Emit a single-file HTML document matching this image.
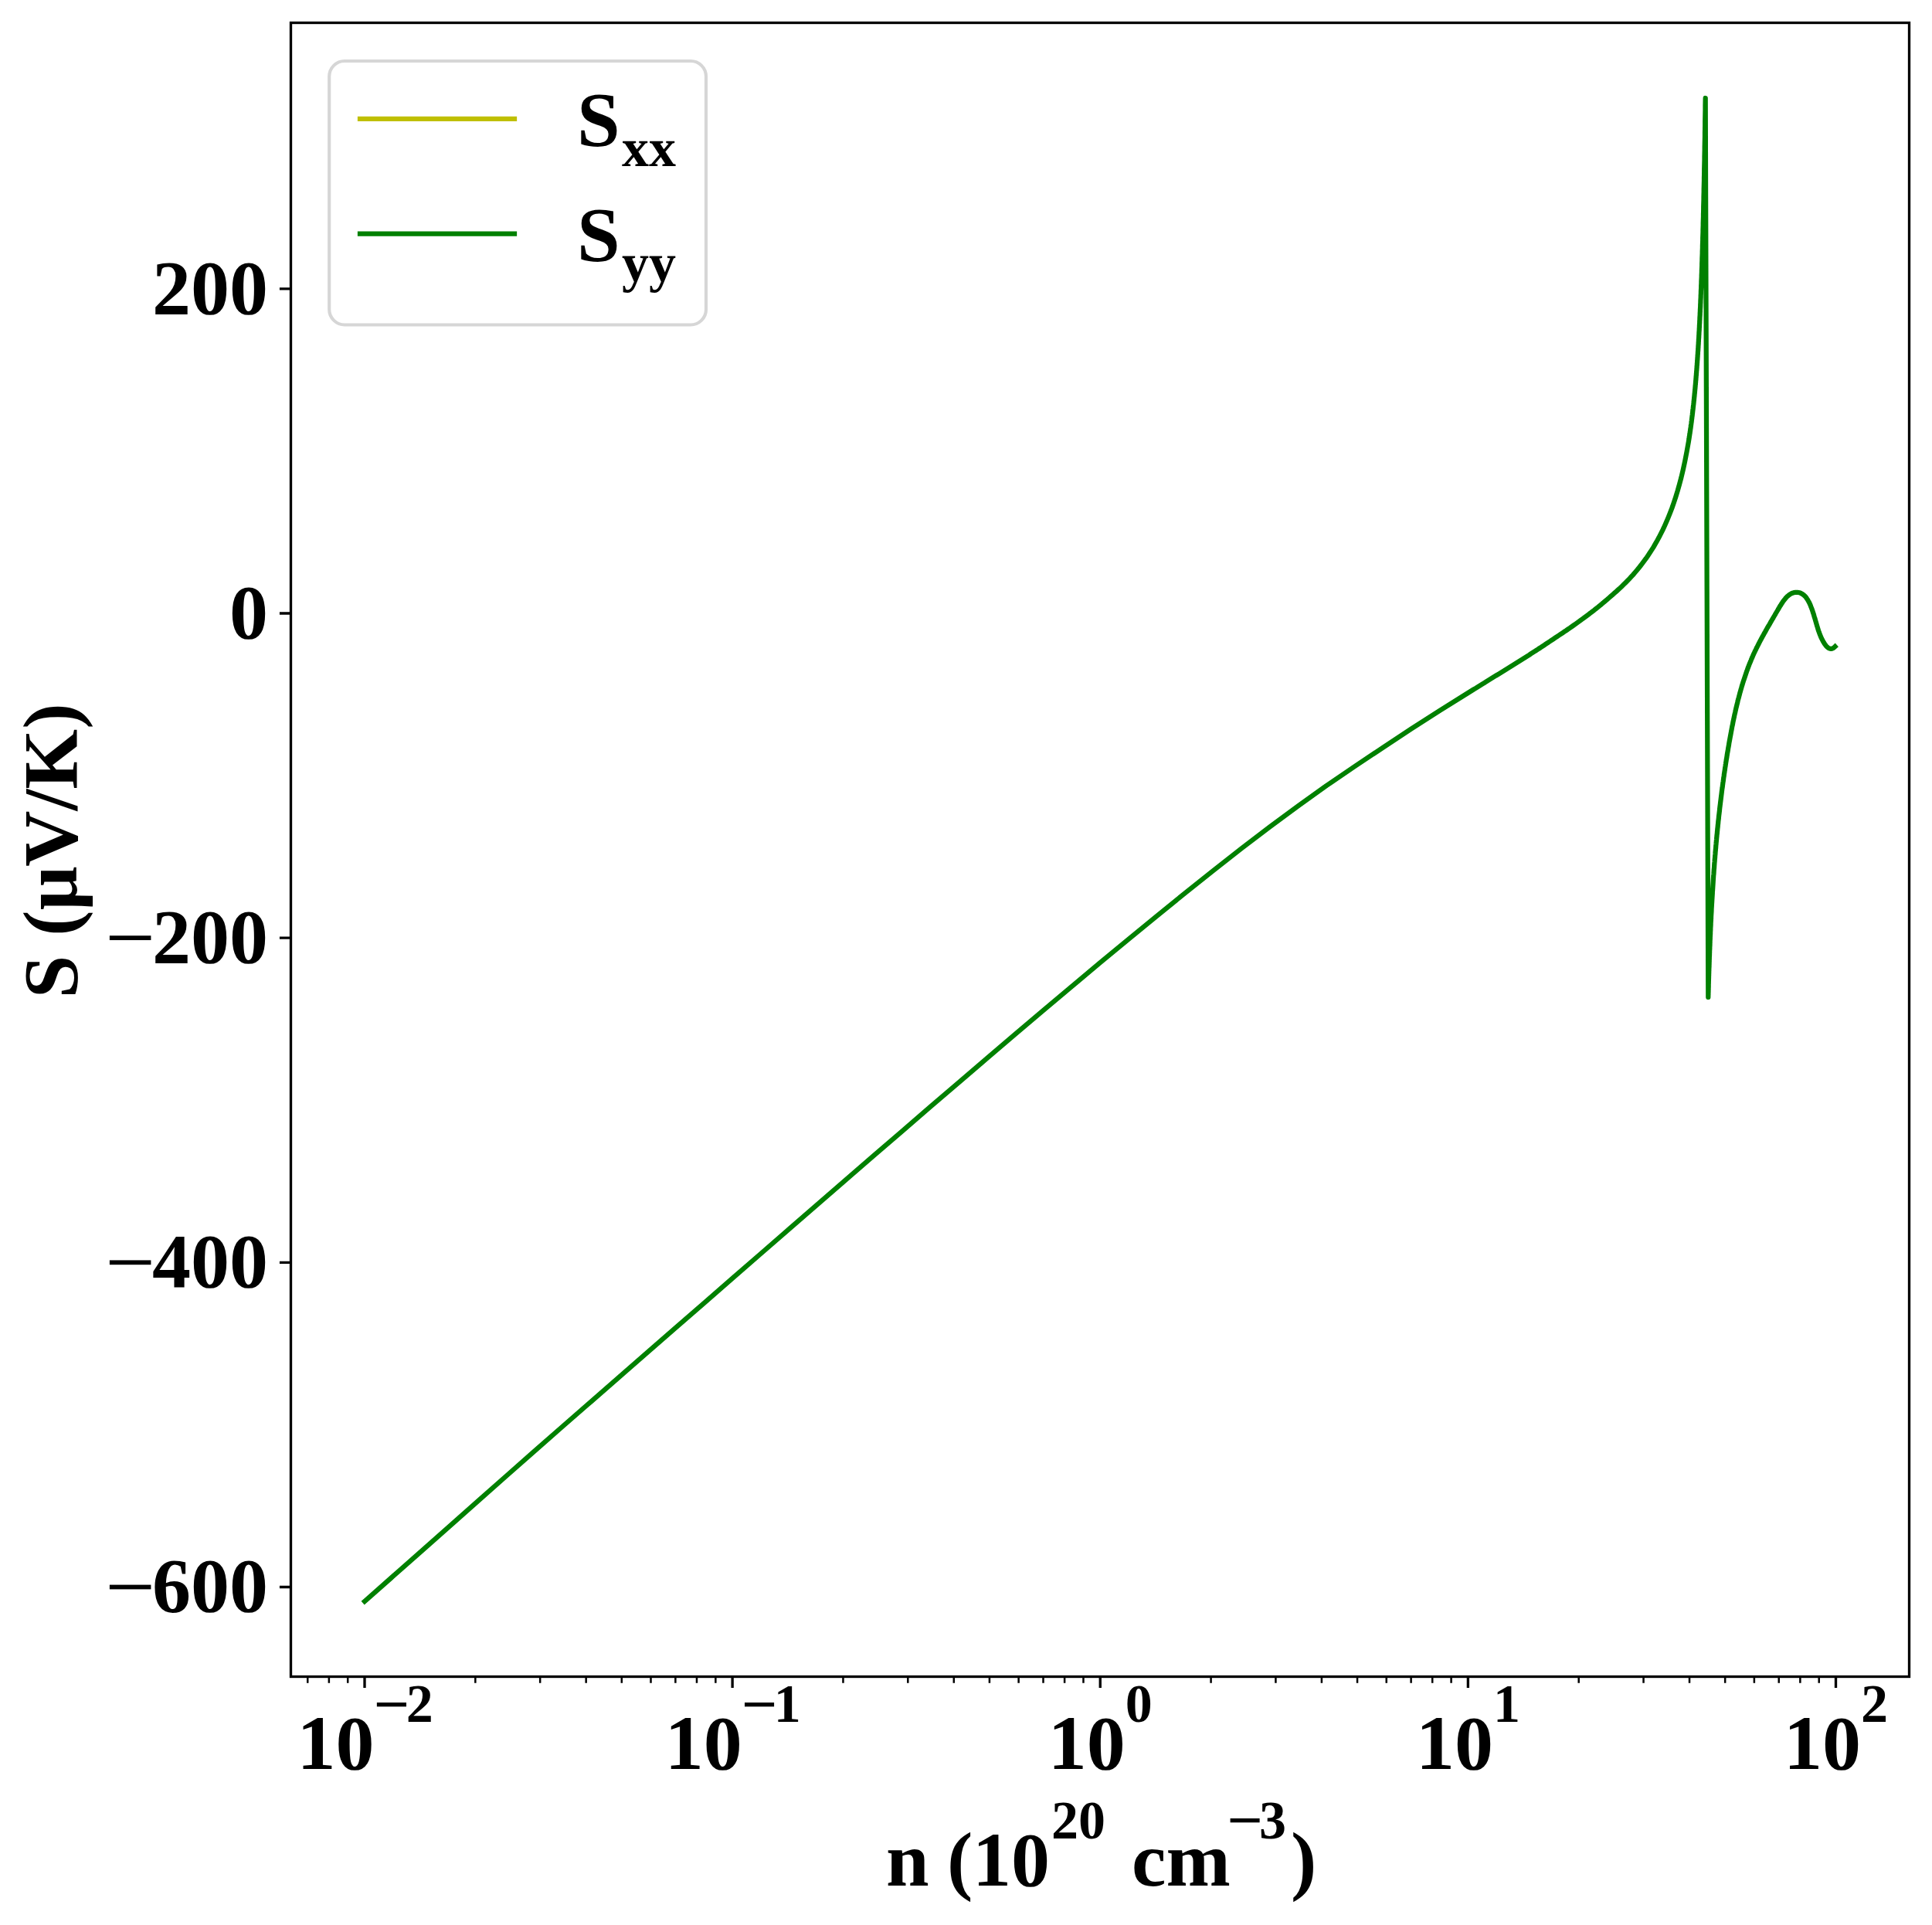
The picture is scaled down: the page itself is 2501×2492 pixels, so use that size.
<!DOCTYPE html>
<html><head><meta charset="utf-8"><style>html,body{margin:0;padding:0;background:#fff;width:2501px;height:2492px;overflow:hidden}</style></head>
<body>
<svg width="2501" height="2492" viewBox="0 0 2501 2492" style="position:absolute;left:0;top:0"><rect x="0" y="0" width="2501" height="2492" fill="#ffffff"/><defs><clipPath id="ax"><rect x="376.5" y="29.5" width="2095.0" height="2141.0"/></clipPath></defs><path d="M472.0,2073.1 L508.6,2040.7 L545.2,2008.3 L581.9,1975.9 L618.5,1943.4 L655.1,1911.0 L691.8,1878.6 L728.4,1846.5 L765.0,1814.6 L801.6,1782.6 L838.2,1750.6 L874.9,1718.7 L911.5,1686.8 L948.1,1654.9 L984.8,1623.0 L1021.4,1591.1 L1058.0,1559.3 L1094.6,1527.6 L1131.2,1495.9 L1167.9,1464.3 L1204.5,1432.7 L1241.1,1401.3 L1277.8,1369.9 L1314.4,1338.7 L1351.0,1307.7 L1387.6,1276.9 L1424.2,1246.2 L1460.9,1215.9 L1497.5,1185.8 L1534.1,1156.1 L1570.8,1126.9 L1607.4,1098.1 L1644.0,1070.2 L1680.6,1043.2 L1717.2,1017.0 L1753.9,992.0 L1790.5,967.6 L1827.1,943.3 L1863.8,919.8 L1900.4,897.0 L1900.4,897.0 L1902.8,895.5 L1905.2,894.0 L1907.6,892.5 L1910.0,891.1 L1912.4,889.6 L1914.8,888.1 L1917.2,886.6 L1919.6,885.1 L1922.0,883.7 L1924.4,882.2 L1926.8,880.7 L1929.2,879.2 L1931.6,877.7 L1934.0,876.2 L1936.4,874.7 L1938.8,873.3 L1941.2,871.8 L1943.6,870.3 L1946.0,868.8 L1948.4,867.3 L1950.8,865.8 L1953.2,864.3 L1955.6,862.8 L1958.0,861.3 L1960.4,859.8 L1962.8,858.3 L1965.2,856.8 L1967.6,855.3 L1970.0,853.8 L1972.4,852.3 L1974.8,850.8 L1977.2,849.3 L1979.6,847.8 L1982.0,846.2 L1984.4,844.7 L1986.8,843.2 L1989.2,841.6 L1991.6,840.0 L1994.0,838.5 L1996.4,836.9 L1998.8,835.3 L2001.2,833.7 L2003.6,832.1 L2006.0,830.5 L2008.4,828.9 L2010.8,827.3 L2013.2,825.7 L2015.6,824.1 L2018.0,822.5 L2020.4,820.9 L2022.8,819.3 L2025.2,817.7 L2027.6,816.1 L2030.0,814.4 L2032.4,812.8 L2034.8,811.1 L2037.2,809.4 L2039.6,807.7 L2042.0,806.0 L2044.4,804.3 L2046.8,802.5 L2049.2,800.8 L2051.6,799.0 L2054.0,797.2 L2056.4,795.4 L2058.8,793.6 L2061.2,791.7 L2063.6,789.9 L2066.0,788.0 L2068.4,786.1 L2070.8,784.1 L2073.2,782.2 L2075.6,780.2 L2078.0,778.1 L2080.4,776.1 L2082.8,774.0 L2085.2,771.9 L2087.6,769.8 L2090.0,767.7 L2092.4,765.6 L2094.8,763.4 L2097.2,761.2 L2099.6,758.9 L2102.0,756.6 L2104.4,754.2 L2106.8,751.8 L2109.2,749.3 L2111.6,746.7 L2114.0,744.1 L2116.4,741.3 L2118.8,738.5 L2121.2,735.6 L2123.6,732.5 L2126.0,729.4 L2128.4,726.2 L2130.8,722.9 L2133.2,719.4 L2135.6,715.8 L2138.0,712.1 L2140.4,708.3 L2142.8,704.2 L2145.2,700.0 L2147.6,695.6 L2150.0,690.9 L2152.4,686.1 L2154.8,681.0 L2157.2,675.6 L2159.6,669.9 L2162.0,663.9 L2164.4,657.6 L2166.8,650.8 L2169.2,643.5 L2171.6,635.7 L2174.0,627.2 L2176.4,618.1 L2178.8,608.0 L2181.2,596.9 L2183.6,584.5 L2186.1,570.5 L2186.1,570.5 L2186.1,570.1 L2186.2,569.6 L2186.3,569.2 L2186.3,568.7 L2186.4,568.3 L2186.5,567.8 L2186.6,567.4 L2186.6,566.9 L2186.7,566.5 L2186.8,566.0 L2186.8,565.5 L2186.9,565.1 L2187.0,564.6 L2187.1,564.1 L2187.1,563.7 L2187.2,563.2 L2187.3,562.7 L2187.3,562.2 L2187.4,561.8 L2187.5,561.3 L2187.6,560.8 L2187.6,560.3 L2187.7,559.8 L2187.8,559.3 L2187.8,558.8 L2187.9,558.3 L2188.0,557.8 L2188.1,557.3 L2188.1,556.8 L2188.2,556.3 L2188.3,555.8 L2188.3,555.3 L2188.4,554.8 L2188.5,554.3 L2188.6,553.8 L2188.6,553.3 L2188.7,552.8 L2188.8,552.2 L2188.8,551.7 L2188.9,551.2 L2189.0,550.7 L2189.1,550.1 L2189.1,549.6 L2189.2,549.1 L2189.3,548.5 L2189.3,548.0 L2189.4,547.5 L2189.5,546.9 L2189.6,546.4 L2189.6,545.8 L2189.7,545.3 L2189.8,544.7 L2189.8,544.2 L2189.9,543.6 L2190.0,543.0 L2190.1,542.5 L2190.1,541.9 L2190.2,541.3 L2190.3,540.8 L2190.3,540.2 L2190.4,539.6 L2190.5,539.0 L2190.6,538.4 L2190.6,537.8 L2190.7,537.3 L2190.8,536.7 L2190.8,536.1 L2190.9,535.5 L2191.0,534.9 L2191.1,534.3 L2191.1,533.6 L2191.2,533.0 L2191.3,532.4 L2191.3,531.8 L2191.4,531.2 L2191.5,530.6 L2191.6,529.9 L2191.6,529.3 L2191.7,528.7 L2191.8,528.0 L2191.8,527.4 L2191.9,526.7 L2192.0,526.1 L2192.1,525.4 L2192.1,524.8 L2192.2,524.1 L2192.3,523.5 L2192.4,522.8 L2192.4,522.1 L2192.5,521.5 L2192.6,520.8 L2192.6,520.1 L2192.7,519.4 L2192.8,518.7 L2192.9,518.0 L2192.9,517.3 L2193.0,516.6 L2193.1,515.9 L2193.1,515.2 L2193.2,514.5 L2193.3,513.8 L2193.4,513.1 L2193.4,512.4 L2193.5,511.6 L2193.6,510.9 L2193.6,510.2 L2193.7,509.4 L2193.8,508.7 L2193.9,507.9 L2193.9,507.2 L2194.0,506.4 L2194.1,505.7 L2194.1,504.9 L2194.2,504.1 L2194.3,503.4 L2194.4,502.6 L2194.4,501.8 L2194.5,501.0 L2194.6,500.2 L2194.6,499.4 L2194.7,498.6 L2194.8,497.8 L2194.9,497.0 L2194.9,496.2 L2195.0,495.3 L2195.1,494.5 L2195.1,493.7 L2195.2,492.8 L2195.3,492.0 L2195.4,491.1 L2195.4,490.3 L2195.5,489.4 L2195.6,488.5 L2195.6,487.7 L2195.7,486.8 L2195.8,485.9 L2195.9,485.0 L2195.9,484.1 L2196.0,483.2 L2196.1,482.3 L2196.1,481.4 L2196.2,480.5 L2196.3,479.5 L2196.4,478.6 L2196.4,477.7 L2196.5,476.7 L2196.6,475.8 L2196.6,474.8 L2196.7,473.8 L2196.8,472.8 L2196.9,471.9 L2196.9,470.9 L2197.0,469.9 L2197.1,468.9 L2197.1,467.9 L2197.2,466.9 L2197.3,465.8 L2197.4,464.8 L2197.4,463.8 L2197.5,462.7 L2197.6,461.7 L2197.6,460.6 L2197.7,459.5 L2197.8,458.4 L2197.9,457.4 L2197.9,456.3 L2198.0,455.2 L2198.1,454.0 L2198.2,452.9 L2198.2,451.8 L2198.3,450.7 L2198.4,449.5 L2198.4,448.4 L2198.5,447.2 L2198.6,446.0 L2198.7,444.8 L2198.7,443.6 L2198.8,442.4 L2198.9,441.2 L2198.9,440.0 L2199.0,438.8 L2199.1,437.5 L2199.2,436.3 L2199.2,435.0 L2199.3,433.7 L2199.4,432.4 L2199.4,431.2 L2199.5,429.8 L2199.6,428.5 L2199.7,427.2 L2199.7,425.9 L2199.8,424.5 L2199.9,423.1 L2199.9,421.8 L2200.0,420.4 L2200.1,419.0 L2200.2,417.6 L2200.2,416.1 L2200.3,414.7 L2200.4,413.2 L2200.4,411.8 L2200.5,410.3 L2200.6,408.8 L2200.7,407.3 L2200.7,405.8 L2200.8,404.2 L2200.9,402.7 L2200.9,401.1 L2201.0,399.6 L2201.1,398.0 L2201.2,396.4 L2201.2,394.7 L2201.3,393.1 L2201.4,391.4 L2201.4,389.8 L2201.5,388.1 L2201.6,386.4 L2201.7,384.6 L2201.7,382.9 L2201.8,381.1 L2201.9,379.4 L2201.9,377.6 L2202.0,375.7 L2202.1,373.9 L2202.2,372.1 L2202.2,370.2 L2202.3,368.3 L2202.4,366.4 L2202.4,364.4 L2202.5,362.5 L2202.6,360.5 L2202.7,358.5 L2202.7,356.5 L2202.8,354.5 L2202.9,352.4 L2202.9,350.3 L2203.0,348.2 L2203.1,346.1 L2203.2,343.9 L2203.2,341.7 L2203.3,339.5 L2203.4,337.3 L2203.4,335.0 L2203.5,332.7 L2203.6,330.4 L2203.7,328.0 L2203.7,325.7 L2203.8,323.3 L2203.9,320.8 L2203.9,318.4 L2204.0,315.9 L2204.1,313.3 L2204.2,310.8 L2204.2,308.2 L2204.3,305.6 L2204.4,302.9 L2204.5,300.2 L2204.5,297.5 L2204.6,294.7 L2204.7,291.9 L2204.7,289.1 L2204.8,286.2 L2204.9,283.3 L2205.0,280.3 L2205.0,277.3 L2205.1,274.3 L2205.2,271.2 L2205.2,268.1 L2205.3,264.9 L2205.4,261.7 L2205.5,258.4 L2205.5,255.1 L2205.6,251.7 L2205.7,248.3 L2205.7,244.8 L2205.8,241.3 L2205.9,237.7 L2206.0,234.1 L2206.0,230.4 L2206.1,226.7 L2206.2,222.9 L2206.2,219.0 L2206.3,215.1 L2206.4,211.1 L2206.5,207.1 L2206.5,203.0 L2206.6,198.8 L2206.7,194.5 L2206.7,190.2 L2206.8,185.8 L2206.9,181.3 L2207.0,176.7 L2207.0,172.1 L2207.1,167.4 L2207.2,162.5 L2207.2,157.6 L2207.3,152.7 L2207.4,147.6 L2207.5,142.4 L2207.5,137.1 L2207.6,131.8 L2207.7,127.0 L2211.3,1290.9 L2211.3,1289.2 L2211.4,1287.6 L2211.4,1285.9 L2211.5,1284.3 L2211.5,1282.6 L2211.6,1281.0 L2211.6,1279.3 L2211.7,1277.7 L2211.7,1276.0 L2211.7,1274.4 L2211.8,1272.7 L2211.8,1271.1 L2211.9,1269.4 L2211.9,1267.7 L2212.0,1266.1 L2212.0,1264.4 L2212.1,1262.8 L2212.1,1261.1 L2212.2,1259.5 L2212.2,1257.9 L2212.3,1256.2 L2212.3,1254.6 L2212.4,1252.9 L2212.5,1251.3 L2212.5,1249.6 L2212.6,1248.0 L2212.6,1246.3 L2212.7,1244.7 L2212.7,1243.0 L2212.8,1241.4 L2212.8,1239.7 L2212.9,1238.1 L2213.0,1236.5 L2213.0,1234.8 L2213.1,1233.2 L2213.1,1231.5 L2213.2,1229.9 L2213.3,1228.2 L2213.3,1226.6 L2213.4,1225.0 L2213.5,1223.3 L2213.5,1221.7 L2213.6,1220.0 L2213.6,1218.4 L2213.7,1216.7 L2213.8,1215.1 L2213.8,1213.5 L2213.9,1211.8 L2214.0,1210.2 L2214.1,1208.6 L2214.1,1206.9 L2214.2,1205.3 L2214.3,1203.6 L2214.3,1202.0 L2214.4,1200.4 L2214.5,1198.7 L2214.6,1197.1 L2214.6,1195.5 L2214.7,1193.8 L2214.8,1192.2 L2214.9,1190.5 L2215.0,1188.9 L2215.0,1187.3 L2215.1,1185.6 L2215.2,1184.0 L2215.3,1182.4 L2215.4,1180.7 L2215.5,1179.1 L2215.5,1177.5 L2215.6,1175.8 L2215.7,1174.2 L2215.8,1172.6 L2215.9,1170.9 L2216.0,1169.3 L2216.1,1167.7 L2216.2,1166.0 L2216.3,1164.4 L2216.4,1162.8 L2216.5,1161.1 L2216.6,1159.5 L2216.7,1157.9 L2216.8,1156.3 L2216.8,1154.6 L2217.0,1153.0 L2217.1,1151.4 L2217.2,1149.7 L2217.3,1148.1 L2217.4,1146.5 L2217.5,1144.8 L2217.6,1143.2 L2217.7,1141.6 L2217.8,1140.0 L2217.9,1138.3 L2218.0,1136.7 L2218.1,1135.1 L2218.2,1133.4 L2218.4,1131.8 L2218.5,1130.2 L2218.6,1128.6 L2218.7,1126.9 L2218.8,1125.3 L2219.0,1123.7 L2219.1,1122.0 L2219.2,1120.4 L2219.3,1118.8 L2219.4,1117.2 L2219.6,1115.5 L2219.7,1113.9 L2219.8,1112.3 L2220.0,1110.7 L2220.1,1109.0 L2220.2,1107.4 L2220.4,1105.8 L2220.5,1104.1 L2220.6,1102.5 L2220.8,1100.9 L2220.9,1099.3 L2221.1,1097.6 L2221.2,1096.0 L2221.3,1094.4 L2221.5,1092.8 L2221.6,1091.1 L2221.8,1089.5 L2221.9,1087.9 L2222.1,1086.3 L2222.2,1084.6 L2222.4,1083.0 L2222.5,1081.4 L2222.7,1079.8 L2222.9,1078.1 L2223.0,1076.5 L2223.2,1074.9 L2223.3,1073.3 L2223.5,1071.6 L2223.7,1070.0 L2223.8,1068.4 L2224.0,1066.8 L2224.2,1065.1 L2224.3,1063.5 L2224.5,1061.9 L2224.7,1060.3 L2224.9,1058.6 L2225.0,1057.0 L2225.2,1055.4 L2225.4,1053.8 L2225.6,1052.1 L2225.8,1050.5 L2226.0,1048.9 L2226.1,1047.3 L2226.3,1045.6 L2226.5,1044.0 L2226.7,1042.4 L2226.9,1040.8 L2227.1,1039.1 L2227.3,1037.5 L2227.5,1035.9 L2227.7,1034.3 L2227.9,1032.6 L2228.1,1031.0 L2228.3,1029.4 L2228.5,1027.8 L2228.7,1026.1 L2228.9,1024.5 L2229.1,1022.9 L2229.3,1021.3 L2229.6,1019.6 L2229.8,1018.0 L2230.0,1016.4 L2230.2,1014.8 L2230.4,1013.1 L2230.7,1011.5 L2230.9,1009.9 L2231.1,1008.3 L2231.3,1006.6 L2231.6,1005.0 L2231.8,1003.4 L2232.0,1001.7 L2232.3,1000.1 L2232.5,998.5 L2232.8,996.9 L2233.0,995.2 L2233.2,993.6 L2233.5,992.0 L2233.7,990.4 L2234.0,988.7 L2234.2,987.1 L2234.5,985.5 L2234.7,983.8 L2235.0,982.2 L2235.3,980.6 L2235.5,979.0 L2235.8,977.3 L2236.0,975.7 L2236.3,974.1 L2236.6,972.4 L2236.9,970.8 L2237.1,969.2 L2237.4,967.6 L2237.7,965.9 L2238.0,964.3 L2238.2,962.7 L2238.5,961.0 L2238.8,959.4 L2239.1,957.8 L2239.4,956.2 L2239.7,954.5 L2240.0,952.9 L2240.3,951.3 L2240.6,949.6 L2240.9,948.0 L2241.2,946.4 L2241.5,944.8 L2241.8,943.1 L2242.1,941.5 L2242.4,939.9 L2242.8,938.3 L2243.1,936.7 L2243.4,935.0 L2243.7,933.4 L2244.1,931.8 L2244.4,930.2 L2244.8,928.6 L2245.1,927.0 L2245.4,925.4 L2245.8,923.8 L2246.2,922.2 L2246.5,920.6 L2246.9,919.0 L2247.2,917.4 L2247.6,915.8 L2248.0,914.2 L2248.4,912.6 L2248.8,911.0 L2249.2,909.4 L2249.5,907.8 L2249.9,906.3 L2250.3,904.7 L2250.8,903.1 L2251.2,901.5 L2251.6,900.0 L2252.0,898.4 L2252.4,896.8 L2252.9,895.3 L2253.3,893.7 L2253.7,892.2 L2254.2,890.6 L2254.6,889.1 L2255.1,887.6 L2255.6,886.0 L2256.0,884.5 L2256.5,883.0 L2257.0,881.4 L2257.5,879.9 L2258.0,878.4 L2258.5,876.9 L2259.0,875.4 L2259.5,873.9 L2260.0,872.4 L2260.5,870.9 L2261.0,869.4 L2261.6,867.9 L2262.1,866.5 L2262.6,865.0 L2263.2,863.5 L2263.8,862.1 L2264.3,860.6 L2264.9,859.1 L2265.5,857.7 L2266.1,856.3 L2266.7,854.8 L2267.2,853.4 L2267.9,852.0 L2268.5,850.6 L2269.1,849.1 L2269.7,847.7 L2270.3,846.3 L2271.0,844.9 L2271.6,843.6 L2272.3,842.2 L2273.0,840.8 L2273.6,839.4 L2274.3,838.0 L2275.0,836.7 L2275.7,835.3 L2276.4,833.9 L2277.1,832.6 L2277.8,831.2 L2278.5,829.8 L2279.2,828.5 L2280.0,827.1 L2280.7,825.7 L2281.4,824.4 L2282.2,823.0 L2283.0,821.6 L2283.7,820.3 L2284.5,818.9 L2285.3,817.5 L2286.0,816.1 L2286.8,814.7 L2287.6,813.3 L2288.4,811.9 L2289.2,810.5 L2290.1,809.1 L2290.9,807.7 L2291.7,806.3 L2292.5,804.8 L2293.4,803.4 L2294.2,801.9 L2295.1,800.5 L2295.9,799.0 L2296.8,797.5 L2297.7,796.0 L2298.5,794.5 L2299.4,793.0 L2300.3,791.5 L2301.2,790.0 L2302.1,788.4 L2303.0,786.9 L2303.9,785.3 L2304.9,783.8 L2305.8,782.3 L2306.8,780.8 L2307.7,779.3 L2308.7,777.9 L2309.8,776.6 L2310.8,775.3 L2311.8,774.0 L2312.9,772.9 L2314.0,771.8 L2315.2,770.8 L2316.4,769.9 L2317.6,769.1 L2318.8,768.4 L2320.1,767.8 L2321.4,767.4 L2322.7,767.0 L2324.1,766.8 L2325.4,766.8 L2326.8,766.8 L2328.1,767.0 L2329.5,767.3 L2330.7,767.7 L2332.0,768.3 L2333.1,769.0 L2334.3,769.8 L2335.3,770.6 L2336.4,771.6 L2337.4,772.7 L2338.3,773.9 L2339.2,775.2 L2340.1,776.5 L2340.9,778.0 L2341.7,779.4 L2342.5,781.0 L2343.2,782.6 L2343.9,784.2 L2344.5,785.9 L2345.2,787.6 L2345.8,789.3 L2346.4,791.1 L2347.0,792.9 L2347.6,794.6 L2348.1,796.4 L2348.6,798.2 L2349.2,800.0 L2349.7,801.7 L2350.2,803.5 L2350.7,805.2 L2351.2,806.9 L2351.7,808.6 L2352.2,810.3 L2352.7,811.9 L2353.2,813.6 L2353.7,815.2 L2354.2,816.8 L2354.8,818.3 L2355.3,819.9 L2355.9,821.4 L2356.5,822.9 L2357.1,824.4 L2357.8,825.9 L2358.5,827.3 L2359.2,828.7 L2359.9,830.1 L2360.7,831.4 L2361.5,832.8 L2362.3,834.0 L2363.2,835.2 L2364.1,836.4 L2365.1,837.4 L2366.1,838.3 L2367.1,839.0 L2368.2,839.5 L2369.3,839.8 L2370.5,839.8 L2371.7,839.6 L2372.9,839.1 L2374.2,838.2 L2375.5,837.0" fill="none" stroke="#008000" stroke-width="6.25" stroke-linejoin="round" stroke-linecap="square" clip-path="url(#ax)"/><path d="M361.92,373.80H376.50M361.92,793.97H376.50M361.92,1214.14H376.50M361.92,1634.32H376.50M361.92,2054.49H376.50M472.00,2170.50V2185.08M948.12,2170.50V2185.08M1424.25,2170.50V2185.08M1900.38,2170.50V2185.08M2376.50,2170.50V2185.08" stroke="#000" stroke-width="3.333" fill="none"/><path d="M398.25,2170.50V2178.83M425.86,2170.50V2178.83M450.21,2170.50V2178.83M615.33,2170.50V2178.83M699.17,2170.50V2178.83M758.66,2170.50V2178.83M804.80,2170.50V2178.83M842.50,2170.50V2178.83M874.37,2170.50V2178.83M901.98,2170.50V2178.83M926.34,2170.50V2178.83M1091.45,2170.50V2178.83M1175.29,2170.50V2178.83M1234.78,2170.50V2178.83M1280.92,2170.50V2178.83M1318.62,2170.50V2178.83M1350.50,2170.50V2178.83M1378.11,2170.50V2178.83M1402.46,2170.50V2178.83M1567.58,2170.50V2178.83M1651.42,2170.50V2178.83M1710.91,2170.50V2178.83M1757.05,2170.50V2178.83M1794.75,2170.50V2178.83M1826.62,2170.50V2178.83M1854.23,2170.50V2178.83M1878.59,2170.50V2178.83M2043.70,2170.50V2178.83M2127.54,2170.50V2178.83M2187.03,2170.50V2178.83M2233.17,2170.50V2178.83M2270.87,2170.50V2178.83M2302.75,2170.50V2178.83M2330.36,2170.50V2178.83M2354.71,2170.50V2178.83" stroke="#000" stroke-width="2.5" fill="none"/><rect x="376.5" y="29.5" width="2095.0" height="2141.0" fill="none" stroke="#000" stroke-width="3.333" stroke-linejoin="miter"/><text x="347.0" y="405.70" text-anchor="end" style="font-family:'Liberation Serif',serif;font-weight:bold;font-size:100px">200</text><text x="347.0" y="825.87" text-anchor="end" style="font-family:'Liberation Serif',serif;font-weight:bold;font-size:100px">0</text><text x="347.0" y="1246.04" text-anchor="end" style="font-family:'Liberation Serif',serif;font-weight:bold;font-size:100px">200</text><rect x="141.9" y="1211.24" width="53.5" height="5.8" fill="#000"/><text x="347.0" y="1666.22" text-anchor="end" style="font-family:'Liberation Serif',serif;font-weight:bold;font-size:100px">400</text><rect x="141.9" y="1631.42" width="53.5" height="5.8" fill="#000"/><text x="347.0" y="2086.39" text-anchor="end" style="font-family:'Liberation Serif',serif;font-weight:bold;font-size:100px">600</text><rect x="141.9" y="2051.59" width="53.5" height="5.8" fill="#000"/><text x="384.56" y="2290" style="font-family:'Liberation Serif',serif;font-weight:bold;font-size:100px">10</text><rect x="487.86" y="2204" width="38.1" height="5.3" fill="#000"/><text x="525.74" y="2228.8" style="font-family:'Liberation Serif',serif;font-weight:bold;font-size:70px">2</text><text x="860.68" y="2290" style="font-family:'Liberation Serif',serif;font-weight:bold;font-size:100px">10</text><rect x="963.98" y="2204" width="38.1" height="5.3" fill="#000"/><text x="1001.87" y="2228.8" style="font-family:'Liberation Serif',serif;font-weight:bold;font-size:70px">1</text><text x="1356.75" y="2290" style="font-family:'Liberation Serif',serif;font-weight:bold;font-size:100px">10</text><text x="1456.75" y="2228.8" style="font-family:'Liberation Serif',serif;font-weight:bold;font-size:70px">0</text><text x="1832.88" y="2290" style="font-family:'Liberation Serif',serif;font-weight:bold;font-size:100px">10</text><text x="1932.88" y="2228.8" style="font-family:'Liberation Serif',serif;font-weight:bold;font-size:70px">1</text><text x="2309.00" y="2290" style="font-family:'Liberation Serif',serif;font-weight:bold;font-size:100px">10</text><text x="2409.00" y="2228.8" style="font-family:'Liberation Serif',serif;font-weight:bold;font-size:70px">2</text><text x="1147" y="2441" style="font-family:'Liberation Serif',serif;font-weight:bold;font-size:100px">n</text><text x="1226" y="2441" style="font-family:'Liberation Serif',serif;font-weight:bold;font-size:100px">(</text><text x="1259" y="2441" style="font-family:'Liberation Serif',serif;font-weight:bold;font-size:100px">10</text><text x="1361" y="2380" style="font-family:'Liberation Serif',serif;font-weight:bold;font-size:70px">20</text><text x="1465" y="2441" style="font-family:'Liberation Serif',serif;font-weight:bold;font-size:100px">cm</text><rect x="1592.6" y="2354" width="38" height="5.3" fill="#000"/><text x="1630" y="2380" style="font-family:'Liberation Serif',serif;font-weight:bold;font-size:70px">3</text><text x="1671" y="2441" style="font-family:'Liberation Serif',serif;font-weight:bold;font-size:100px">)</text><text transform="translate(99,1101.4) rotate(-90)" text-anchor="middle" style="font-family:'Liberation Serif',serif;font-weight:bold;font-size:100px">S (μV/K)</text><rect x="426.2" y="79" width="487.8" height="341.5" rx="20" ry="20" fill="#ffffff" stroke="#d6d6d6" stroke-width="4.167"/><path d="M466,153.85H666" stroke="#bfbf00" stroke-width="6.25" stroke-linecap="square"/><path d="M466,302.7H666" stroke="#008000" stroke-width="6.25" stroke-linecap="square"/><text x="747" y="188" style="font-family:'Liberation Serif',serif;font-weight:bold;font-size:100px">S</text><text x="805" y="215" style="font-family:'Liberation Serif',serif;font-weight:bold;font-size:70px">xx</text><text x="747" y="336.85" style="font-family:'Liberation Serif',serif;font-weight:bold;font-size:100px">S</text><text x="805" y="363.85" style="font-family:'Liberation Serif',serif;font-weight:bold;font-size:70px">yy</text></svg>
</body></html>
